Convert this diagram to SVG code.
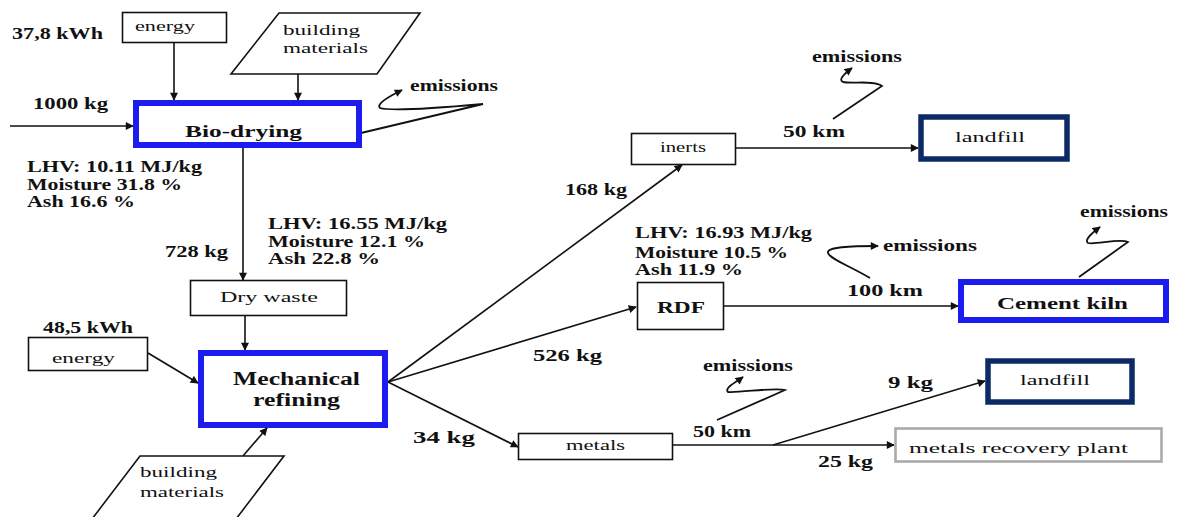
<svg xmlns="http://www.w3.org/2000/svg" width="1177" height="517" viewBox="0 0 1177 517" font-family="'Liberation Serif', 'DejaVu Serif', serif">
  <style>
    text { font-family: 'Liberation Serif', 'DejaVu Serif', serif; fill: #111; }
    .b { font-weight: bold; font-size: 16px; }
    .r { font-size: 15px; }
    .box { fill: #fff; stroke: #111; stroke-width: 1.6; }
    .blue { fill: #fff; stroke: #1c1cf0; stroke-width: 6; }
    .navy { fill: #fff; stroke: #0b2a66; stroke-width: 5.5; }
    .grey { fill: #fff; stroke: #aaa; stroke-width: 2.6; }
    .line { fill: none; stroke: #111; stroke-width: 1.6; marker-end: url(#arrow); }
    .curve { fill: none; stroke: #111; stroke-width: 1.8; marker-end: url(#arrow); }
  </style>
  <defs>
    <marker id="arrow" viewBox="0 0 10 10" refX="9" refY="5" markerWidth="9" markerHeight="8" markerUnits="userSpaceOnUse" orient="auto">
      <path d="M0,0 L10,5 L0,10 Z" fill="#111"/>
    </marker>
  </defs>

  <rect width="1177" height="517" fill="#fff"/>

  <!-- connectors -->
  <g id="connectors">
    <path class="line" d="M174,43 L174,100"/>
    <path class="line" d="M298,74 L298,100"/>
    <path class="line" d="M10,126 L133,126"/>
    <path class="line" d="M243,148 L243,280"/>
    <path class="line" d="M245,316 L245,350"/>
    <path class="line" d="M148,353 L198,383"/>
    <path class="line" d="M243,456 L267,428"/>
    <path class="line" d="M388,382 L682,165"/>
    <path class="line" d="M388,382 L636,307"/>
    <path class="line" d="M388,382 L518,447"/>
    <path class="line" d="M736,148 L918,148"/>
    <path class="line" d="M724,306 L958,306"/>
    <path class="line" d="M673,445 L894,445"/>
    <path class="line" d="M773,445 L985,381"/>
    <!-- emission releases -->
    <path class="curve" d="M361,133 L483,104 C450,107 392,112 380,108 C376,104 388,97 402,90"/>
    <path class="curve" d="M833,119 L882,86 C875,80 852,84 843,82 C838,80 844,74 852,68"/>
    <path class="curve" d="M870,278 C850,266 830,259 828,253 C826,247 850,246 878,246"/>
    <path class="curve" d="M1079,277 L1128,242 C1120,238 1095,245 1088,243 C1084,240 1092,233 1100,227"/>
    <path class="curve" d="M717,420 L785,390 C775,387 740,393 728,392 C724,388 735,383 743,377"/>
  </g>

  <!-- flow labels -->
  <g id="labels">
    <text class="b" x="12" y="39" textLength="91" lengthAdjust="spacingAndGlyphs">37,8 kWh</text>
    <text class="b" x="33" y="109" textLength="75" lengthAdjust="spacingAndGlyphs">1000 kg</text>
    <text class="b" x="27" y="172" textLength="175" lengthAdjust="spacingAndGlyphs">LHV: 10.11 MJ/kg</text>
    <text class="b" x="27" y="190" textLength="155" lengthAdjust="spacingAndGlyphs">Moisture 31.8 %</text>
    <text class="b" x="27" y="207" textLength="108" lengthAdjust="spacingAndGlyphs">Ash 16.6 %</text>
    <text class="b" x="165" y="257" textLength="63" lengthAdjust="spacingAndGlyphs">728 kg</text>
    <text class="b" x="268" y="229" textLength="179" lengthAdjust="spacingAndGlyphs">LHV: 16.55 MJ/kg</text>
    <text class="b" x="268" y="247" textLength="157" lengthAdjust="spacingAndGlyphs">Moisture 12.1 %</text>
    <text class="b" x="268" y="264" textLength="112" lengthAdjust="spacingAndGlyphs">Ash 22.8 %</text>
    <text class="b" x="43" y="333" textLength="90" lengthAdjust="spacingAndGlyphs">48,5 kWh</text>
    <text class="b" x="565" y="195" textLength="62" lengthAdjust="spacingAndGlyphs">168 kg</text>
    <text class="b" x="783" y="137" textLength="62" lengthAdjust="spacingAndGlyphs">50 km</text>
    <text class="b" x="635" y="238" textLength="177" lengthAdjust="spacingAndGlyphs">LHV: 16.93 MJ/kg</text>
    <text class="b" x="635" y="258" textLength="153" lengthAdjust="spacingAndGlyphs">Moisture 10.5 %</text>
    <text class="b" x="635" y="275" textLength="108" lengthAdjust="spacingAndGlyphs">Ash 11.9 %</text>
    <text class="b" x="847" y="296" textLength="76" lengthAdjust="spacingAndGlyphs">100 km</text>
    <text class="b" x="533" y="361" textLength="69" lengthAdjust="spacingAndGlyphs">526 kg</text>
    <text class="b" x="413" y="443" textLength="62" lengthAdjust="spacingAndGlyphs">34 kg</text>
    <text class="b" x="693" y="437" textLength="58" lengthAdjust="spacingAndGlyphs">50 km</text>
    <text class="b" x="888" y="388" textLength="45" lengthAdjust="spacingAndGlyphs">9 kg</text>
    <text class="b" x="818" y="467" textLength="55" lengthAdjust="spacingAndGlyphs">25 kg</text>
    <text class="b" x="410" y="91" textLength="88" lengthAdjust="spacingAndGlyphs">emissions</text>
    <text class="b" x="812" y="62" textLength="90" lengthAdjust="spacingAndGlyphs">emissions</text>
    <text class="b" x="883" y="251" textLength="94" lengthAdjust="spacingAndGlyphs">emissions</text>
    <text class="b" x="1080" y="217" textLength="88" lengthAdjust="spacingAndGlyphs">emissions</text>
    <text class="b" x="703" y="371" textLength="90" lengthAdjust="spacingAndGlyphs">emissions</text>
  </g>

  <!-- nodes -->
  <g id="energy-top">
    <rect class="box" x="122.5" y="12.5" width="104" height="30"/>
    <text class="r" x="135" y="31" textLength="60" lengthAdjust="spacingAndGlyphs">energy</text>
  </g>
  <g id="materials-top">
    <polygon class="box" points="279,13 420,13 377,74 231,74"/>
    <text class="r" x="283" y="35" textLength="77" lengthAdjust="spacingAndGlyphs">building</text>
    <text class="r" x="283" y="53" textLength="85" lengthAdjust="spacingAndGlyphs">materials</text>
  </g>
  <g id="bio-drying">
    <rect class="blue" x="136" y="103" width="223" height="42"/>
    <text class="b" x="185" y="137" textLength="117" lengthAdjust="spacingAndGlyphs" style="font-size:17px">Bio-drying</text>
  </g>
  <g id="dry-waste">
    <rect class="box" x="190.5" y="280.5" width="156" height="35"/>
    <text class="r" x="220" y="302" textLength="98" lengthAdjust="spacingAndGlyphs">Dry waste</text>
  </g>
  <g id="energy-left">
    <rect class="box" x="28.5" y="337.5" width="119" height="33"/>
    <text class="r" x="52" y="363" textLength="63" lengthAdjust="spacingAndGlyphs">energy</text>
  </g>
  <g id="mechanical-refining">
    <rect class="blue" x="201" y="353" width="184" height="72"/>
    <text class="b" x="233" y="385" textLength="127" lengthAdjust="spacingAndGlyphs" style="font-size:18px">Mechanical</text>
    <text class="b" x="253" y="406" textLength="87" lengthAdjust="spacingAndGlyphs" style="font-size:18px">refining</text>
  </g>
  <g id="materials-bottom">
    <polygon class="box" points="140,456 284,456 236,519 92,519"/>
    <text class="r" x="140" y="477" textLength="77" lengthAdjust="spacingAndGlyphs">building</text>
    <text class="r" x="140" y="497" textLength="84" lengthAdjust="spacingAndGlyphs">materials</text>
  </g>
  <g id="inerts">
    <rect class="box" x="631.5" y="133.5" width="104" height="31"/>
    <text class="r" x="660" y="152" textLength="46" lengthAdjust="spacingAndGlyphs">inerts</text>
  </g>
  <g id="landfill-inerts">
    <rect class="navy" x="921" y="117" width="146" height="42"/>
    <text class="r" x="955" y="142" textLength="70" lengthAdjust="spacingAndGlyphs">landfill</text>
  </g>
  <g id="rdf">
    <rect class="box" x="637.5" y="282.5" width="86" height="47"/>
    <text class="b" x="657" y="313" textLength="48" lengthAdjust="spacingAndGlyphs" style="font-weight:600">RDF</text>
  </g>
  <g id="cement-kiln">
    <rect class="blue" x="961" y="282" width="205" height="38"/>
    <text class="b" x="997" y="309" textLength="131" lengthAdjust="spacingAndGlyphs">Cement kiln</text>
  </g>
  <g id="metals">
    <rect class="box" x="518.5" y="433.5" width="154" height="26"/>
    <text class="r" x="566" y="450" textLength="59" lengthAdjust="spacingAndGlyphs">metals</text>
  </g>
  <g id="landfill-metals">
    <rect class="navy" x="988" y="361" width="144" height="41"/>
    <text class="r" x="1020" y="385" textLength="70" lengthAdjust="spacingAndGlyphs">landfill</text>
  </g>
  <g id="metals-recovery">
    <rect class="grey" x="895.5" y="428.5" width="266" height="33"/>
    <text class="r" x="909" y="453" textLength="219" lengthAdjust="spacingAndGlyphs">metals recovery plant</text>
  </g>
</svg>
